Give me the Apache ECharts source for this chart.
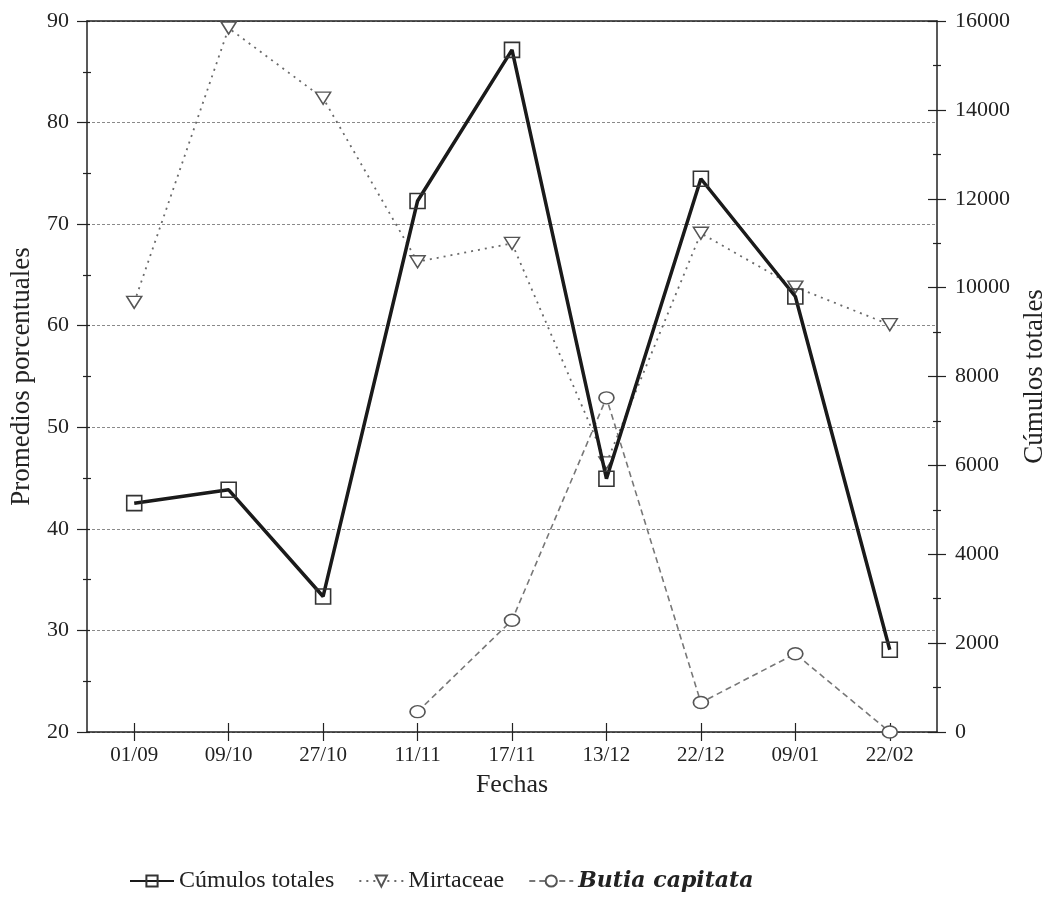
<!DOCTYPE html>
<html>
<head>
<meta charset="utf-8">
<script src="https://cdn.jsdelivr.net/npm/echarts@6/dist/echarts.min.js"></script>
<style>
  html, body { margin: 0; padding: 0; background: #fff; }
  #chart { width: 1052px; height: 897px; }
</style>
</head>
<body>
<div id="chart"></div>
<script>
const fechas = ["01/09", "09/10", "27/10", "11/11", "17/11", "13/12", "22/12", "09/01", "22/02"];
const cumulosTotales = [5150, 5450, 3050, 11950, 15350, 5700, 12450, 9800, 1850];
const mirtaceae = [62.3, 89.3, 82.4, 66.3, 68.1, 46.5, 69.1, 63.8, 60.1];
const butiaCapitata = [null, null, null, 22.0, 31.0, 52.9, 22.9, 27.7, 20.0];

const serif = "Liberation Serif, DejaVu Serif, serif";
const ink = "#222";

const chart = echarts.init(document.getElementById("chart"));

const option = {
  backgroundColor: "#fff",
  textStyle: { fontFamily: serif, color: ink },
  grid: { left: 87, right: 115, top: 21, bottom: 165, containLabel: false, outerBoundsMode: "none" },
  legend: {
    left: 124,
    top: 864,
    itemWidth: 44,
    itemHeight: 14,
    itemGap: 24,
    textStyle: {
      fontFamily: serif,
      fontSize: 24,
      color: ink,
      rich: {
        b: { fontFamily: "DejaVu Serif, serif", fontSize: 22, fontWeight: "bold", fontStyle: "italic", color: ink },
      },
    },
    formatter: (name) => (name === "Butia capitata" ? "{b|" + name + "}" : name),
    data: ["Cúmulos totales", "Mirtaceae", "Butia capitata"],
  },
  xAxis: [
    {
      type: "category",
      data: fechas,
      boundaryGap: true,
      name: "Fechas",
      nameLocation: "middle",
      nameGap: 40,
      nameTextStyle: { fontSize: 26, color: ink, fontFamily: serif },
      axisLine: { lineStyle: { color: ink, width: 1.5 } },
      axisTick: { show: true, alignWithLabel: true, length: 9, lineStyle: { color: ink, width: 1.2 } },
      axisLabel: { fontSize: 21, color: ink, margin: 13, fontFamily: serif },
      splitLine: { show: false },
    },
    {
      // inward half of the crossing ticks
      type: "category",
      data: fechas,
      position: "bottom",
      boundaryGap: true,
      axisLine: { show: false },
      axisTick: { show: true, inside: true, alignWithLabel: true, length: 9, lineStyle: { color: ink, width: 1.2 } },
      axisLabel: { show: false },
    },
    {
      // top frame line
      type: "category",
      data: fechas,
      position: "top",
      axisLine: { lineStyle: { color: ink, width: 1.5 } },
      axisTick: { show: false },
      axisLabel: { show: false },
    },
  ],
  yAxis: [
    {
      type: "value",
      min: 20,
      max: 90,
      interval: 10,
      position: "left",
      name: "Promedios porcentuales",
      nameLocation: "middle",
      nameRotate: 90,
      nameGap: 52,
      nameTextStyle: { fontSize: 27, color: ink, fontFamily: serif },
      axisLine: { show: true, lineStyle: { color: ink, width: 1.5 } },
      axisTick: { show: true, length: 10, lineStyle: { color: ink, width: 1.2 } },
      minorTick: { show: true, splitNumber: 2, length: 4, lineStyle: { color: ink, width: 1.2 } },
      axisLabel: { fontSize: 22, color: ink, margin: 18, fontFamily: serif },
      splitLine: {
        show: true,
        lineStyle: { color: "#8a8a8a", width: 1.2, type: [3, 2] },
      },
    },
    {
      type: "value",
      min: 0,
      max: 16000,
      interval: 2000,
      position: "right",
      name: "Cúmulos totales",
      nameLocation: "middle",
      nameRotate: 90,
      nameGap: 84,
      nameTextStyle: { fontSize: 27, color: ink, fontFamily: serif },
      axisLine: { show: true, lineStyle: { color: ink, width: 1.5 } },
      axisTick: { show: true, length: 9, lineStyle: { color: ink, width: 1.2 } },
      minorTick: { show: true, splitNumber: 2, length: 4, lineStyle: { color: ink, width: 1.2 } },
      axisLabel: { fontSize: 22, color: ink, margin: 18, fontFamily: serif, formatter: (v) => String(v) },
      splitLine: { show: false },
    },
    {
      // inward ticks on the left axis
      type: "value",
      min: 20,
      max: 90,
      interval: 10,
      position: "left",
      axisLine: { show: false },
      axisTick: { show: true, inside: true, length: 3, lineStyle: { color: ink, width: 1.2 } },
      minorTick: { show: true, splitNumber: 2, length: 4, lineStyle: { color: ink, width: 1.2 } },
      axisLabel: { show: false },
      splitLine: { show: false },
    },
    {
      // inward ticks on the right axis
      type: "value",
      min: 0,
      max: 16000,
      interval: 2000,
      position: "right",
      axisLine: { show: false },
      axisTick: { show: true, inside: true, length: 9, lineStyle: { color: ink, width: 1.2 } },
      minorTick: { show: true, splitNumber: 2, length: 4, lineStyle: { color: ink, width: 1.2 } },
      axisLabel: { show: false },
      splitLine: { show: false },
    },
  ],
  series: [
    {
      name: "Mirtaceae",
      type: "line",
      yAxisIndex: 0,
      data: mirtaceae,
      symbol: "triangle",
      symbolRotate: 180,
      symbolSize: [15, 12],
      showAllSymbol: true,
      lineStyle: { color: "#6a6a6a", width: 1.8, type: [2, 5] },
      itemStyle: { color: "#fff", borderColor: "#555", borderWidth: 1.5 },
      z: 2,
    },
    {
      name: "Butia capitata",
      type: "line",
      yAxisIndex: 0,
      data: butiaCapitata,
      symbol: "circle",
      symbolSize: [15, 12],
      showAllSymbol: true,
      connectNulls: false,
      lineStyle: { color: "#777", width: 1.6, type: [6, 4] },
      itemStyle: { color: "#fff", borderColor: "#555", borderWidth: 1.5 },
      z: 3,
    },
    {
      name: "Cúmulos totales",
      type: "line",
      yAxisIndex: 1,
      data: cumulosTotales,
      symbol: "rect",
      symbolSize: 15,
      showAllSymbol: true,
      lineStyle: { color: "#1a1a1a", width: 3.5 },
      itemStyle: { color: "rgba(255,255,255,0)", borderColor: "#333", borderWidth: 1.6 },
      z: 4,
    },
  ],
};

chart.setOption(option);
</script>
</body>
</html>
